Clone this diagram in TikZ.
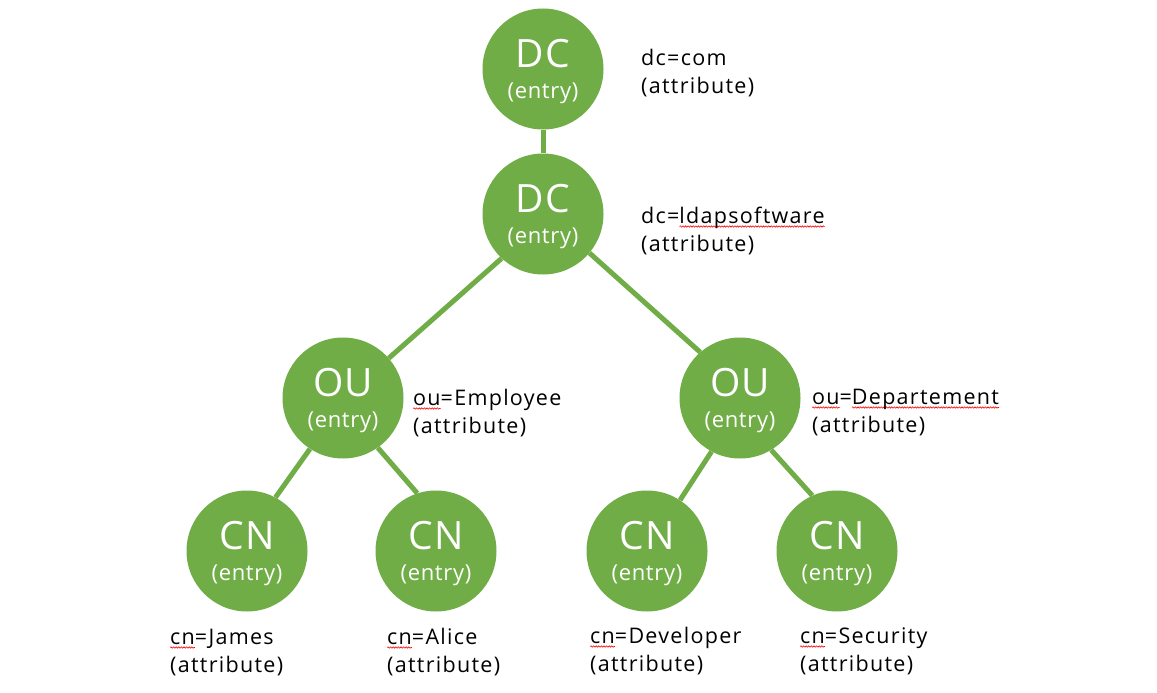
\documentclass[tikz,border=0pt]{standalone}
\usepackage{fontspec}
\setmainfont{Open Sans}
\newfontfamily\lblfont[LetterSpace=6]{Open Sans}
\newfontfamily\entfont[LetterSpace=3]{Open Sans}
\usetikzlibrary{decorations.pathmorphing}
\definecolor{ldapgreen}{HTML}{70AD47}
\newsavebox\sqbox
\newcommand\squig[1]{\leavevmode\sbox\sqbox{#1}\rlap{\tikz[baseline=0pt,overlay]\draw[red,line width=0.6pt,decorate,decoration={snake,amplitude=0.7pt,segment length=2.6pt}] (0pt,-3.5pt) -- (\wd\sqbox,-3.5pt);}\usebox\sqbox}
\tikzset{
  entrynode/.style={circle,fill=ldapgreen,minimum size=121pt,inner sep=0pt,text=white,align=center,
    text depth=0pt,font=\entfont\fontsize{22}{31}\selectfont},
  attrlabel/.style={anchor=base west,inner sep=0pt,align=left,text=black,
    font=\lblfont\fontsize{21.5}{28}\selectfont},
  link/.style={draw=ldapgreen,line width=5pt}
}
\newcommand\entrytext[1]{{\fontsize{39}{31}\selectfont #1}\\(entry)}
\begin{document}
\begin{tikzpicture}[x=1pt,y=-1pt]
\useasboundingbox[fill=white] (0,0) rectangle (1157,693);
\node[entrynode] (dc1) at (543,69) {\entrytext{DC}};
\node[entrynode] (dc2) at (543,214) {\entrytext{DC}};
\node[entrynode] (ou1) at (343,398) {\entrytext{OU}};
\node[entrynode] (ou2) at (740,398) {\entrytext{OU}};
\node[entrynode] (cn1) at (247,551) {\entrytext{CN}};
\node[entrynode] (cn2) at (436,551) {\entrytext{CN}};
\node[entrynode] (cn3) at (647,551) {\entrytext{CN}};
\node[entrynode] (cn4) at (837,551) {\entrytext{CN}};
\draw[link] (dc1.south) -- (dc2.north);
\draw[link] (dc2.-133) -- (ou1.41);
\draw[link] (dc2.-40) -- (ou2.131);
\draw[link] (ou1.-123) -- (cn1.62);
\draw[link] (ou1.-55) -- (cn2.108);
\draw[link] (ou2.-118) -- (cn3.57);
\draw[link] (ou2.-59) -- (cn4.114);
\node[attrlabel] (l1) at (641,93) {dc=com\\(attribute)};
\node[attrlabel] (l2) at (641,251) {dc=\squig{ldapsoftware}\\(attribute)};
\node[attrlabel] (l3) at (413,433) {\squig{ou}=Employee\\(attribute)};
\node[attrlabel] (l4) at (812,432) {\squig{ou}=\squig{Departement}\\(attribute)};
\node[attrlabel] (l5) at (170,672) {\squig{cn}=James\\(attribute)};
\node[attrlabel] (l6) at (387,672) {\squig{cn}=Alice\\(attribute)};
\node[attrlabel] (l7) at (590,671) {\squig{cn}=Developer\\(attribute)};
\node[attrlabel] (l8) at (800,671) {\squig{cn}=Security\\(attribute)};
\end{tikzpicture}
\end{document}
